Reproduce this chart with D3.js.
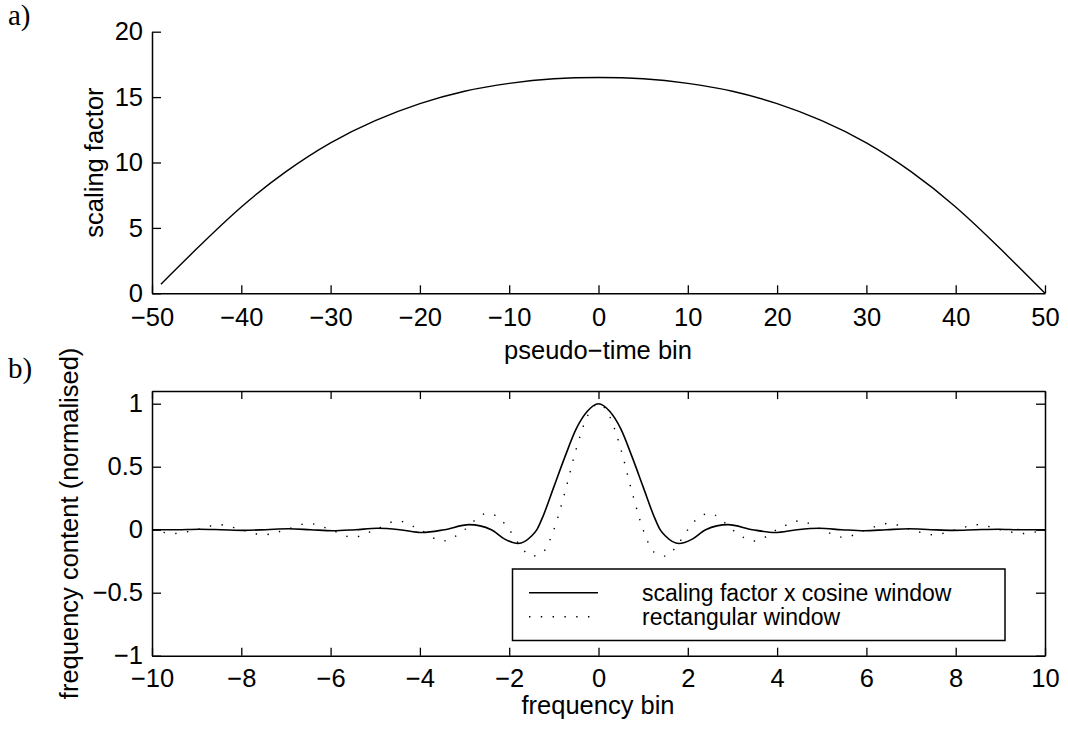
<!DOCTYPE html>
<html>
<head>
<meta charset="utf-8">
<script src="https://cdn.jsdelivr.net/npm/d3@7"></script>
<style>
  body { margin: 0; background: #fff; }
  svg { display: block; font-family: "Liberation Sans", Arial, sans-serif; }
  .tick text { font-size: 25.5px; fill: #000; }
</style>
</head>
<body>
<div id="chart"></div>
<script>
// a) scaling factor vs pseudo-time bin (read off the plot)
const timeBins = [-49, -45, -40, -35, -30, -25, -20, -15, -10, -5, 0, 5, 10, 15, 20, 25, 30, 35, 40, 45, 50];
const scaleFactor = [0.7, 3.4, 6.6, 9.3, 11.5, 13.2, 14.5, 15.45, 16.05, 16.4, 16.5, 16.4, 16.05, 15.45, 14.5, 13.2, 11.5, 9.3, 6.6, 3.4, 0.0];

// b) frequency content, cosine-windowed (solid)
const cosBins = [-10, -9.45, -8.95, -8.45, -7.95, -7.45, -6.95, -6.45, -5.95, -5.45, -4.95, -4.45, -3.95, -3.45, -2.9, -2.4, -2.1, -1.8, -1.5, -1.38, -1.25, -1, -0.75, -0.5, -0.25,
  0, 0.25, 0.5, 0.75, 1, 1.25, 1.38, 1.5, 1.8, 2.1, 2.4, 2.9, 3.45, 3.95, 4.45, 4.95, 5.45, 5.95, 6.45, 6.95, 7.45, 7.95, 8.45, 8.95, 9.45, 10];
const cosValues = [0.0, 0, 0.004, 0, -0.005, 0, 0.007, 0, -0.008, 0, 0.011, 0, -0.022, 0, 0.04, 0, -0.075, -0.11, -0.05, 0, 0.1, 0.34, 0.58, 0.8, 0.94,
  1, 0.94, 0.8, 0.58, 0.34, 0.1, 0, -0.05, -0.11, -0.075, 0, 0.04, 0, -0.022, 0, 0.011, 0, -0.008, 0, 0.007, 0, -0.005, 0, 0.004, 0, 0.0];

// b) frequency content, rectangular window (dotted)
const rectBins = [-10, -9.5, -9, -8.5, -8, -7.5, -7, -6.5, -6, -5.5, -5, -4.5, -4, -3.5, -3, -2.75, -2.5, -2.25, -2, -1.75, -1.5, -1.25, -1, -0.75, -0.5, -0.25,
  0, 0.25, 0.5, 0.75, 1, 1.25, 1.5, 1.75, 2, 2.25, 2.5, 2.75, 3, 3.5, 4, 4.5, 5, 5.5, 6, 6.5, 7, 7.5, 8, 8.5, 9, 9.5, 10];
const rectValues = [0, -0.03, 0, 0.04, 0, -0.04, 0, 0.05, 0, -0.06, 0, 0.07, 0, -0.09, 0, 0.08, 0.13, 0.1, 0, -0.13, -0.21, -0.18, 0, 0.3, 0.64, 0.9,
  1, 0.9, 0.64, 0.3, 0, -0.18, -0.21, -0.13, 0, 0.1, 0.13, 0.08, 0, -0.09, 0, 0.07, 0, -0.06, 0, 0.05, 0, -0.04, 0, 0.04, 0, -0.03, 0];

const xTicksA = [-50, -40, -30, -20, -10, 0, 10, 20, 30, 40, 50];
const yTicksA = [0, 5, 10, 15, 20];
const xTicksB = [-10, -8, -6, -4, -2, 0, 2, 4, 6, 8, 10];
const yTicksB = [-1, -0.5, 0, 0.5, 1];
const legendLabels = ["scaling factor x cosine window", "rectangular window"];

const width = 1068, height = 731;
const left = 152, right = 1045;

const svg = d3.select("#chart").append("svg")
  .attr("width", width)
  .attr("height", height);
svg.append("rect").attr("width", width).attr("height", height).attr("fill", "#fff");

const fmt = d3.format("~g");

function styleAxis(g) {
  g.selectAll(".domain").attr("stroke", "#000").attr("stroke-width", 1.5);
  g.selectAll(".tick line").attr("stroke", "#000").attr("stroke-width", 1.3);
}

// ---------- panel a ----------
const xA = d3.scaleLinear().domain([-50, 50]).range([left, right]);
const yA = d3.scaleLinear().domain([0, 20]).range([293.3, 31.7]);

svg.append("g")
  .attr("transform", `translate(0,${yA(0)})`)
  .call(d3.axisBottom(xA).tickValues(xTicksA).tickFormat(fmt).tickSizeInner(-8).tickSizeOuter(0).tickPadding(15))
  .call(styleAxis);

svg.append("g")
  .attr("transform", `translate(${left},0)`)
  .call(d3.axisLeft(yA).tickValues(yTicksA).tickFormat(fmt).tickSizeInner(-9).tickSizeOuter(0).tickPadding(9))
  .call(styleAxis);

svg.append("path")
  .datum(timeBins.map((t, i) => [t, scaleFactor[i]]))
  .attr("fill", "none")
  .attr("stroke", "#000")
  .attr("stroke-width", 1.4)
  .attr("d", d3.line().x(d => xA(d[0])).y(d => yA(d[1])).curve(d3.curveNatural));

svg.append("text")
  .attr("x", 598).attr("y", 359)
  .attr("text-anchor", "middle")
  .style("font-size", "25.5px")
  .text("pseudo\u2212time bin");

svg.append("text")
  .attr("transform", `translate(103,${(yA(0) + yA(20)) / 2}) rotate(-90)`)
  .attr("text-anchor", "middle")
  .style("font-size", "25.5px")
  .text("scaling factor");

svg.append("text")
  .attr("x", 8).attr("y", 25)
  .style("font-family", "'Liberation Serif', 'DejaVu Serif', serif")
  .style("font-size", "29px")
  .text("a)");

// ---------- panel b ----------
const xB = d3.scaleLinear().domain([-10, 10]).range([left, right]);
const yB = d3.scaleLinear().domain([-1, 1.1]).range([655.7, 391.1]);

svg.append("g")
  .attr("transform", `translate(0,${yB(-1)})`)
  .call(d3.axisBottom(xB).tickValues(xTicksB).tickFormat(fmt).tickSizeInner(-8).tickSizeOuter(0).tickPadding(13))
  .call(styleAxis);

svg.append("g")
  .attr("transform", `translate(0,${yB(1.1)})`)
  .call(d3.axisTop(xB).tickValues(xTicksB).tickFormat("").tickSizeInner(-8).tickSizeOuter(0))
  .call(styleAxis);

svg.append("g")
  .attr("transform", `translate(${left},0)`)
  .call(d3.axisLeft(yB).tickValues(yTicksB).tickFormat(fmt).tickSizeInner(-9).tickSizeOuter(0).tickPadding(9))
  .call(styleAxis);

svg.append("g")
  .attr("transform", `translate(${right},0)`)
  .call(d3.axisRight(yB).tickValues(yTicksB).tickFormat("").tickSizeInner(-9).tickSizeOuter(0))
  .call(styleAxis);

const lineB = d3.line().x(d => xB(d[0])).y(d => yB(d[1])).curve(d3.curveMonotoneX);

svg.append("path")
  .datum(rectBins.map((f, i) => [f, rectValues[i]]))
  .attr("fill", "none")
  .attr("stroke", "#000")
  .attr("stroke-width", 1.4)
  .attr("stroke-dasharray", "1.4,10.4")
  .attr("d", lineB);

svg.append("path")
  .datum(cosBins.map((f, i) => [f, cosValues[i]]))
  .attr("fill", "none")
  .attr("stroke", "#000")
  .attr("stroke-width", 1.6)
  .attr("d", lineB);

// legend
const legend = svg.append("g");
legend.append("rect")
  .attr("x", 512.5).attr("y", 569).attr("width", 492.5).attr("height", 71.5)
  .attr("fill", "#fff").attr("stroke", "#000").attr("stroke-width", 1.5);
legend.append("line")
  .attr("x1", 529).attr("x2", 598).attr("y1", 592.7).attr("y2", 592.7)
  .attr("stroke", "#000").attr("stroke-width", 1.5);
legend.append("line")
  .attr("x1", 529).attr("x2", 598).attr("y1", 616.7).attr("y2", 616.7)
  .attr("stroke", "#000").attr("stroke-width", 1.4).attr("stroke-dasharray", "1.4,10.4");
legend.selectAll("text.lab")
  .data(legendLabels)
  .join("text")
  .attr("class", "lab")
  .attr("x", 642)
  .attr("y", (d, i) => 601 + i * 24)
  .style("font-size", "23px")
  .text(d => d);

svg.append("text")
  .attr("x", 598).attr("y", 714)
  .attr("text-anchor", "middle")
  .style("font-size", "25.5px")
  .text("frequency bin");

svg.append("text")
  .attr("transform", `translate(78,${(yB(-1) + yB(1.1)) / 2}) rotate(-90)`)
  .attr("text-anchor", "middle")
  .style("font-size", "25.5px")
  .text("frequency content (normalised)");

svg.append("text")
  .attr("x", 8).attr("y", 378)
  .style("font-family", "'Liberation Serif', 'DejaVu Serif', serif")
  .style("font-size", "29px")
  .text("b)");
</script>
</body>
</html>
